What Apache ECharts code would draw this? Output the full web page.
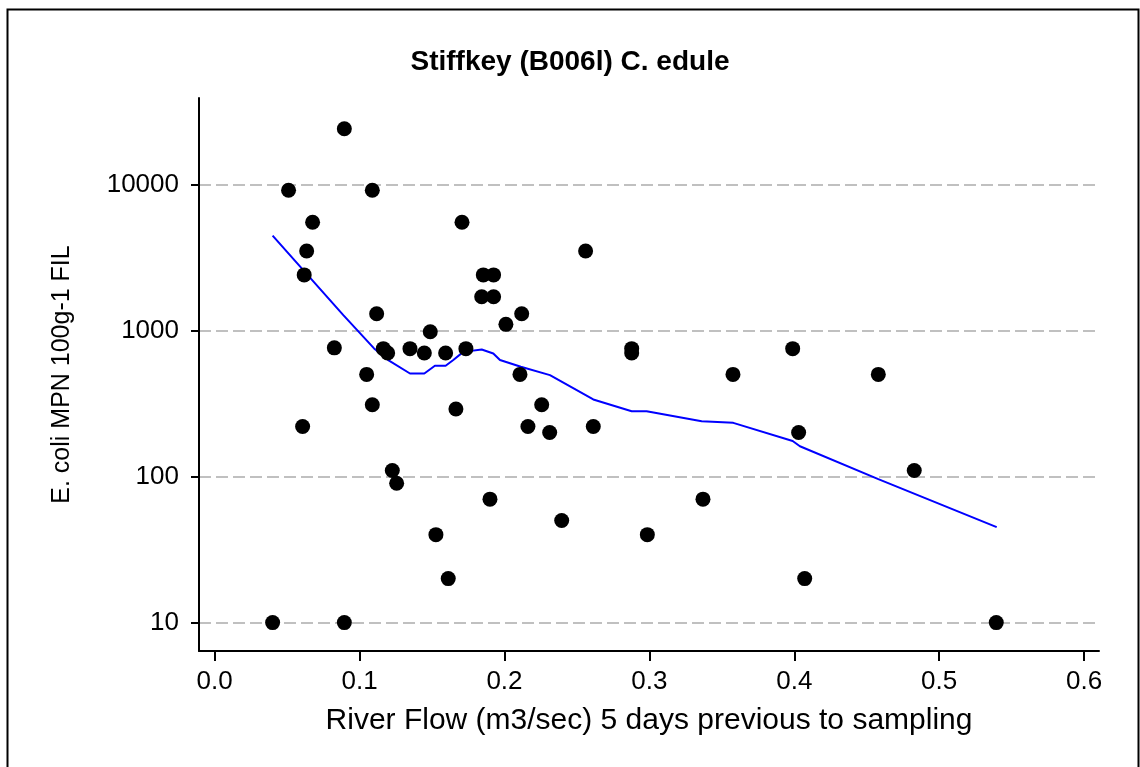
<!DOCTYPE html>
<html>
<head>
<meta charset="utf-8">
<script src="https://cdn.jsdelivr.net/npm/echarts@6/dist/echarts.min.js"></script>
<style>
html,body{margin:0;padding:0;background:#fff;}
#chart{width:1140px;height:767px;}
</style>
</head>
<body>
<div id="chart"></div>
<script>
// Scatter data: river flow (m3/sec) vs E. coli MPN 100g-1 FIL
var flow = [0.040, 0.051, 0.0607, 0.0618, 0.0635, 0.0676, 0.0826, 0.0895, 0.0895, 0.1049,
            0.1088, 0.1088, 0.1118, 0.1164, 0.1194, 0.1226, 0.1256, 0.1348, 0.1447, 0.1488,
            0.1527, 0.1594, 0.1612, 0.1665, 0.1707, 0.1734, 0.1843, 0.1854, 0.1900, 0.1925,
            0.1925, 0.2010, 0.2107, 0.2119, 0.2162, 0.2257, 0.2312, 0.2395, 0.2560, 0.2613,
            0.2878, 0.2878, 0.2986, 0.3370, 0.3577, 0.3989, 0.4030, 0.4072, 0.4580, 0.4828,
            0.5394];
var ecoli = [10, 9100, 220, 2400, 3500, 5500, 760, 24000, 10, 500,
             9100, 310, 1300, 750, 700, 110, 90, 750, 700, 980,
             40, 700, 20, 290, 5500, 750, 1700, 2400, 70, 2400,
             1700, 1100, 500, 1300, 220, 310, 200, 50, 3500, 220,
             750, 700, 40, 70, 500, 750, 200, 20, 500, 110,
             10];
// Smoothed (lowess) trend line
var smoothFlow = [0.040, 0.0888, 0.110, 0.1198, 0.1348, 0.1447, 0.152, 0.1594, 0.1647, 0.1716,
                  0.1843, 0.1923, 0.1969, 0.2113, 0.2314, 0.2613, 0.2878, 0.2981, 0.3361, 0.3579,
                  0.3989, 0.4039, 0.458, 0.5397];
var smoothEcoli = [4450, 1274, 753, 627, 507, 507, 573, 573, 627, 713,
                   741, 695, 627, 564, 494, 337, 280, 280, 239, 233,
                   175, 161, 96, 45];
var xTicks = [0, 0.1, 0.2, 0.3, 0.4, 0.5, 0.6];
var yTicks = [10, 100, 1000, 10000];

var titleText = 'Stiffkey (B006l) C. edule';
var xName = 'River Flow (m3/sec) 5 days previous to sampling';
var yName = 'E. coli MPN 100g-1 FIL';

var FONT = '"Liberation Sans", Arial, sans-serif';
var chart = echarts.init(document.getElementById('chart'), null, {renderer: 'canvas'});

var scatterData = flow.map(function (f, i) { return [f, ecoli[i]]; });
var lineData = smoothFlow.map(function (f, i) { return [f, smoothEcoli[i]]; });

chart.setOption({
  animation: false,
  backgroundColor: '#ffffff',
  title: {
    text: titleText,
    left: 'center',
    top: 48,
    padding: 0,
    textStyle: {fontFamily: FONT, fontSize: 28, fontWeight: 'bold', color: '#000'}
  },
  graphic: [{
    type: 'rect',
    left: 5, top: 7,
    shape: {width: 1131, height: 770},
    style: {fill: 'none', stroke: '#000', lineWidth: 2},
    silent: true
  }],
  grid: {left: 199, top: 98, width: 900, height: 553, containLabel: false},
  xAxis: {
    type: 'value',
    min: -0.0108,
    max: 0.6103,
    name: xName,
    nameLocation: 'middle',
    nameGap: 55,
    nameTextStyle: {fontFamily: FONT, fontSize: 30, color: '#000'},
    axisLine: {show: true, onZero: false, lineStyle: {color: '#000', width: 2}},
    axisTick: {show: true, length: 10, customValues: xTicks, lineStyle: {color: '#000', width: 2}},
    axisLabel: {
      customValues: xTicks,
      margin: 18,
      fontFamily: FONT, fontSize: 26, color: '#000',
      formatter: function (v) { return v.toFixed(1); }
    },
    splitLine: {show: false}
  },
  yAxis: {
    type: 'log',
    logBase: 10,
    min: 6.39,
    max: 38995,
    name: yName,
    nameLocation: 'middle',
    nameGap: 124,
    nameRotate: 90,
    nameTextStyle: {fontFamily: FONT, fontSize: 25, color: '#000'},
    axisLine: {show: true, onZero: false, lineStyle: {color: '#000', width: 2}},
    axisTick: {show: true, length: 8, customValues: yTicks, lineStyle: {color: '#000', width: 2}},
    axisLabel: {
      customValues: yTicks,
      margin: 20,
      fontFamily: FONT, fontSize: 26, color: '#000',
      formatter: function (v) { return String(Math.round(v)); }
    },
    splitLine: {
      show: true,
      lineStyle: {color: '#c0c0c0', width: 2, type: [12, 5]}
    }
  },
  series: [
    {
      type: 'line',
      data: lineData,
      showSymbol: false,
      symbol: 'none',
      lineStyle: {color: '#0000ff', width: 2},
      z: 2
    },
    {
      type: 'scatter',
      data: scatterData,
      symbol: 'circle',
      symbolSize: 15,
      itemStyle: {color: '#000', opacity: 1},
      z: 3
    }
  ]
});
</script>
</body>
</html>
